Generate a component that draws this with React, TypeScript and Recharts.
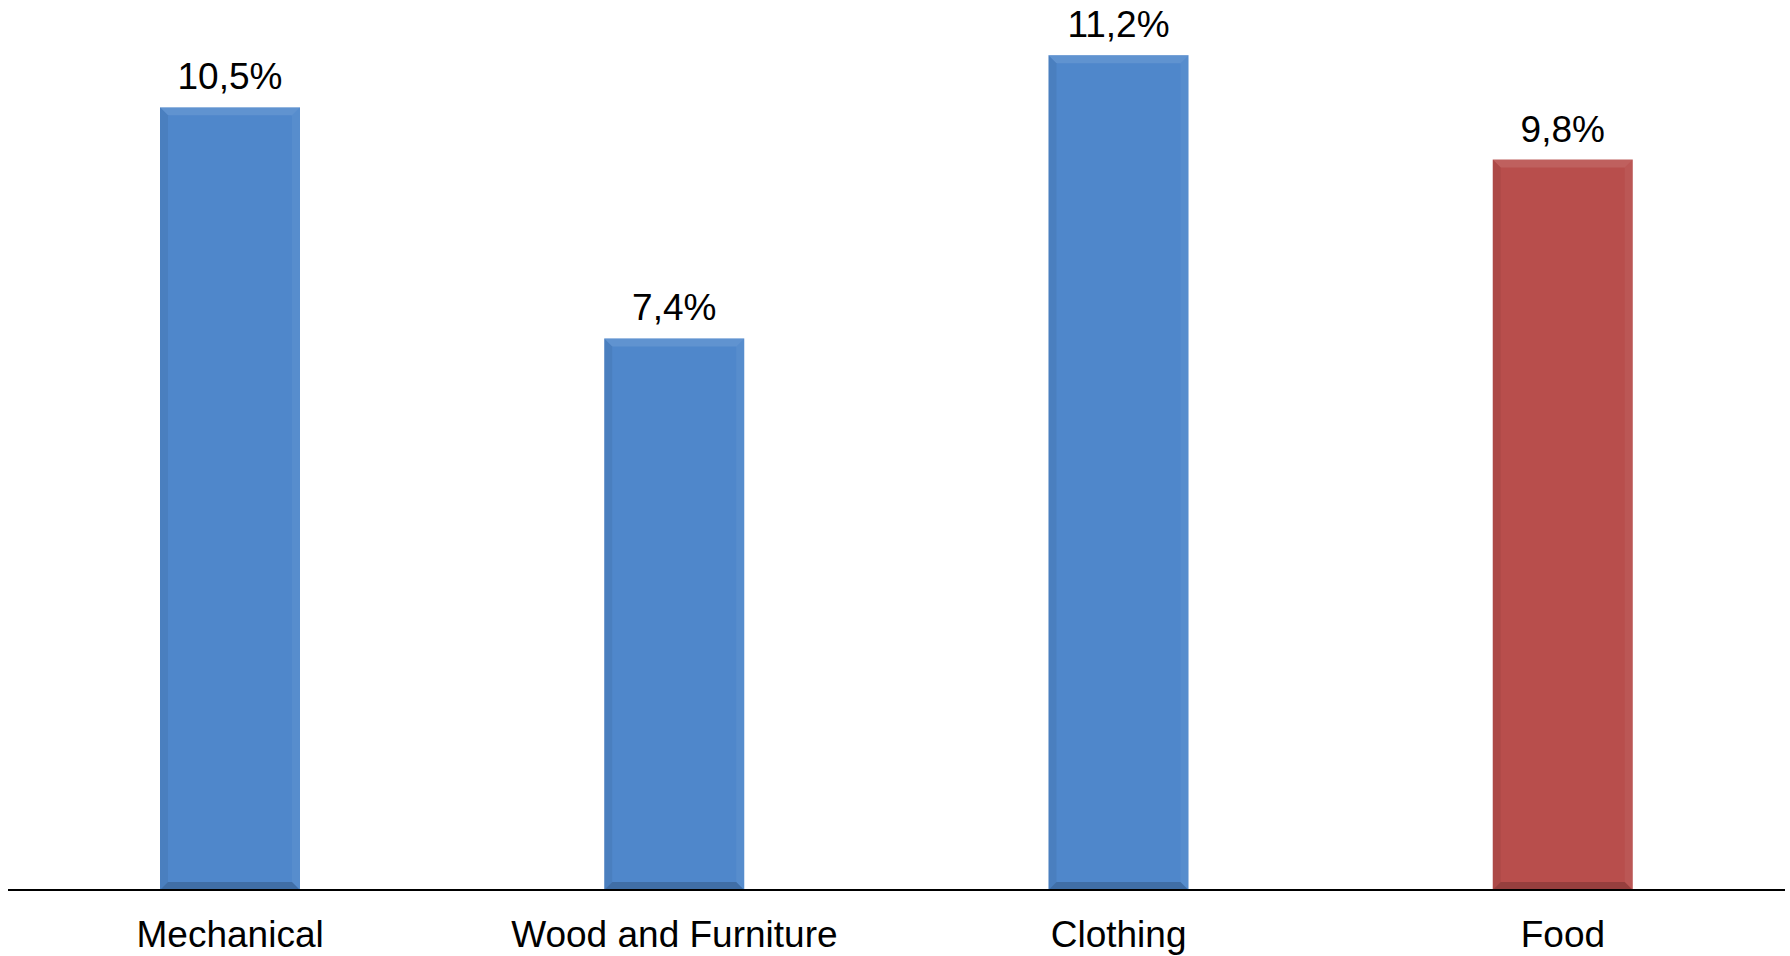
import { BarChart, Bar, XAxis, YAxis, Cell, LabelList } from "recharts";

const categories = ["Mechanical", "Wood and Furniture", "Clothing", "Food"];
const values = [10.5, 7.4, 11.2, 9.8];
const valueLabels = ["10,5%", "7,4%", "11,2%", "9,8%"];
const barColors = ["#4F87CB", "#4F87CB", "#4F87CB", "#B84E4C"];

const W = 1790;
const H = 956;
const AXIS_H = 66;
const FONT = "'Liberation Sans', Arial, Helvetica, sans-serif";

const data = categories.map((name, i) => ({ name, value: values[i], label: valueLabels[i] }));

function BevelBar(props: any) {
  const { x, y, width: w, height: h, fill } = props;
  if (!w || !h) return null;
  const b = 8;
  return (
    <g>
      <rect x={x} y={y} width={w} height={h} fill={fill} />
      <polygon points={`${x},${y} ${x + w},${y} ${x + w - b},${y + b} ${x + b},${y + b}`} fill="#fff" fillOpacity={0.1} />
      <polygon points={`${x},${y} ${x + b},${y + b} ${x + b},${y + h - b} ${x},${y + h}`} fill="#000" fillOpacity={0.06} />
      <polygon points={`${x + w},${y} ${x + w},${y + h} ${x + w - b},${y + h - b} ${x + w - b},${y + b}`} fill="#fff" fillOpacity={0.05} />
      <polygon points={`${x},${y + h} ${x + w},${y + h} ${x + w - b},${y + h - b} ${x + b},${y + h - b}`} fill="#000" fillOpacity={0.18} />
    </g>
  );
}

function ValueLabel(props: any) {
  const { x, y, width, index } = props;
  return (
    <text x={x + width / 2} y={y - 18} textAnchor="middle" fontSize={37} fontFamily={FONT} fill="#000">
      {valueLabels[index]}
    </text>
  );
}

function CategoryTick(props: any) {
  const { x, payload } = props;
  return (
    <text x={x} y={H - AXIS_H + 57} textAnchor="middle" fontSize={37} fontFamily={FONT} fill="#000">
      {payload.value}
    </text>
  );
}

export default function App() {
  return (
    <div style={{ position: "absolute", left: 0, top: 0, width: W, height: H, background: "#fff" }}>
      <BarChart width={W} height={H} data={data} margin={{ top: 3, right: 5, bottom: 0, left: 8 }}>
        <XAxis
          dataKey="name"
          height={AXIS_H}
          axisLine={{ stroke: "#000", strokeWidth: 2 }}
          tickLine={false}
          tickSize={0}
          tick={<CategoryTick />}
          interval={0}
        />
        <YAxis hide domain={[0, 11.9]} />
        <Bar dataKey="value" barSize={140} shape={<BevelBar />} isAnimationActive={false}>
          {data.map((d, i) => (
            <Cell key={d.name} fill={barColors[i]} />
          ))}
          <LabelList dataKey="label" content={<ValueLabel />} />
        </Bar>
      </BarChart>
    </div>
  );
}
